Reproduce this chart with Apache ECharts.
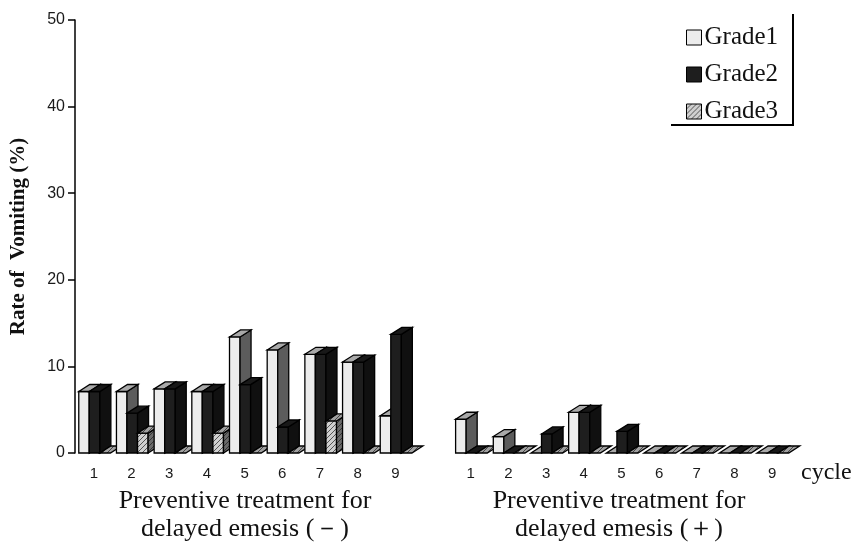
<!DOCTYPE html>
<html>
<head>
<meta charset="utf-8">
<script src="https://cdn.jsdelivr.net/npm/echarts@6/dist/echarts.min.js"></script>
<style>
  html, body { margin: 0; padding: 0; background: #fff; }
  #container { width: 860px; height: 546px; }
</style>
</head>
<body>
<div id="container"></div>
<script>
// cycle labels, same 1..9 under both groups
const cycles = ['1', '2', '3', '4', '5', '6', '7', '8', '9'];
const gradeNames = ['Grade1', 'Grade2', 'Grade3'];

// Preventive treatment for delayed emesis (-)
const grade1Minus = [7.1, 7.1, 7.4, 7.1, 13.4, 11.9, 11.4, 10.5, 4.3];
const grade2Minus = [7.1, 4.6, 7.4, 7.1, 7.9, 3.0, 11.4, 10.5, 13.7];
const grade3Minus = [0, 2.3, 0, 2.3, 0, 0, 3.7, 0, 0];

// Preventive treatment for delayed emesis (+)
const grade1Plus = [3.9, 1.9, 0, 4.7, 0, 0, 0, 0, 0];
const grade2Plus = [0, 0, 2.2, 4.7, 2.5, 0, 0, 0, 0];
const grade3Plus = [0, 0, 0, 0, 0, 0, 0, 0, 0];

const yTicks = [0, 10, 20, 30, 40, 50];

// 9 + empty gap + 9
const categories = cycles.concat([''], cycles);

function joinGroups(minus, plus) {
  let out = [];
  minus.forEach((v, i) => out.push([i, v]));
  plus.forEach((v, i) => out.push([i + 10, v]));
  return out;
}

// hatched fill for grade 3
function hatch(bg, line) {
  let c = document.createElement('canvas');
  c.width = 5; c.height = 5;
  let ctx = c.getContext('2d');
  ctx.fillStyle = bg;
  ctx.fillRect(0, 0, 5, 5);
  ctx.strokeStyle = line;
  ctx.lineWidth = 1;
  ctx.beginPath();
  ctx.moveTo(0, 5); ctx.lineTo(5, 0);
  ctx.moveTo(-1, 1); ctx.lineTo(1, -1);
  ctx.moveTo(4, 6); ctx.lineTo(6, 4);
  ctx.stroke();
  return { image: c, repeat: 'repeat' };
}

// front / side / top colours per grade
const faces = [
  { front: '#ececec', side: '#5c5c5c', top: '#a9a9a9' },
  { front: '#1e1e1e', side: '#101010', top: '#181818' },
  { front: hatch('#d0d0d0', '#555'), side: hatch('#6a6a6a', '#333'), top: hatch('#a0a0a0', '#444') }
];

function renderBar(params, api) {
  let g = params.seriesIndex;
  let cat = api.value(0);
  let v = api.value(1);
  let base = api.coord([cat, 0]);
  let top = api.coord([cat, v]);
  let bw = api.size([1, 0])[0];
  let w = bw * 0.28;
  let dx = 11, dy = -7;
  let x0 = base[0] - bw * 0.4 + g * w;
  let f = faces[g];
  let z2 = cat * 3 + g;
  let st = { stroke: '#000', lineWidth: 1.3 };
  let children = [];
  if (v > 0) {
    children.push({
      type: 'rect', z2: z2,
      shape: { x: x0, y: top[1], width: w, height: base[1] - top[1] },
      style: Object.assign({ fill: f.front }, st)
    });
    children.push({
      type: 'polygon', z2: z2,
      shape: { points: [[x0 + w, top[1]], [x0 + w + dx, top[1] + dy], [x0 + w + dx, base[1] + dy], [x0 + w, base[1]]] },
      style: Object.assign({ fill: f.side }, st)
    });
  }
  children.push({
    type: 'polygon', z2: z2,
    shape: { points: [[x0, top[1]], [x0 + dx, top[1] + dy], [x0 + w + dx, top[1] + dy], [x0 + w, top[1]]] },
    style: Object.assign({ fill: f.top }, st)
  });
  return { type: 'group', children: children };
}

const seriesData = [
  joinGroups(grade1Minus, grade1Plus),
  joinGroups(grade2Minus, grade2Plus),
  joinGroups(grade3Minus, grade3Plus)
];

const titleStyle = { fontFamily: 'Liberation Serif', fontSize: 26, fill: '#111', align: 'center', verticalAlign: 'middle' };

let chart = echarts.init(document.getElementById('container'));
let option = {
  animation: false,
  backgroundColor: '#fff',
  grid: { left: 73, right: 69, top: 20, bottom: 93 },
  legend: {
    orient: 'vertical',
    left: 681,
    top: 20,
    itemWidth: 15,
    itemHeight: 15,
    itemGap: 12,
    textStyle: { fontFamily: 'Liberation Serif', fontSize: 25, color: '#111', padding: [0, 0, 0, -2] },
    data: gradeNames.map((n, i) => ({
      name: n,
      icon: 'rect',
      itemStyle: { color: faces[i].front, borderColor: '#000', borderWidth: 1 }
    }))
  },
  xAxis: {
    type: 'category',
    data: categories,
    axisLine: { show: false },
    axisTick: { show: false },
    axisLabel: { fontFamily: 'Liberation Sans', fontSize: 15, color: '#1a1a1a', margin: 13 },
    name: 'cycle',
    nameLocation: 'end',
    nameGap: 10,
    nameTextStyle: { fontFamily: 'Liberation Serif', fontSize: 24, color: '#111', verticalAlign: 'top', padding: [8, 0, 0, 0] }
  },
  yAxis: {
    type: 'value',
    min: yTicks[0],
    max: yTicks[yTicks.length - 1],
    interval: 10,
    splitLine: { show: false },
    axisLine: { show: true, lineStyle: { color: '#000', width: 1.5 } },
    axisTick: { show: true, length: 7, lineStyle: { color: '#000', width: 1.5 } },
    axisLabel: { fontFamily: 'Liberation Sans', fontSize: 16, color: '#1a1a1a', margin: 10 },
    name: 'Rate of  Vomiting (%)',
    nameLocation: 'middle',
    nameGap: 46,
    nameTextStyle: { fontFamily: 'Liberation Serif', fontSize: 21, fontWeight: 'bold', color: '#111' }
  },
  graphic: [
    { type: 'line', shape: { x1: 793, y1: 14, x2: 793, y2: 125 }, style: { stroke: '#000', lineWidth: 2 } },
    { type: 'line', shape: { x1: 671, y1: 125, x2: 794, y2: 125 }, style: { stroke: '#000', lineWidth: 2 } },
    { type: 'text', x: 245, y: 501, style: Object.assign({ text: 'Preventive treatment for' }, titleStyle) },
    { type: 'text', x: 245, y: 529, style: Object.assign({ text: 'delayed emesis (－)' }, titleStyle) },
    { type: 'text', x: 619, y: 501, style: Object.assign({ text: 'Preventive treatment for' }, titleStyle) },
    { type: 'text', x: 619, y: 529, style: Object.assign({ text: 'delayed emesis (＋)' }, titleStyle) }
  ],
  series: gradeNames.map((n, i) => ({
    name: n,
    type: 'custom',
    renderItem: renderBar,
    itemStyle: { color: i === 2 ? '#999' : faces[i].front },
    encode: { x: 0, y: 1 },
    data: seriesData[i]
  }))
};
chart.setOption(option);
</script>
</body>
</html>
